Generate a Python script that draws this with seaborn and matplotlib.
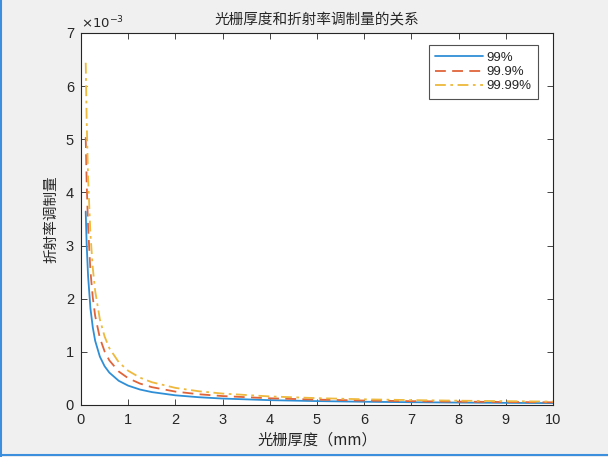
import pandas as pd
import seaborn as sns
import matplotlib.pyplot as plt
from matplotlib.lines import Line2D

# grating thickness (mm)
thickness = [0.1, 0.12, 0.15, 0.2, 0.25, 0.3, 0.4, 0.5, 0.6, 0.8, 1.0, 1.25, 1.5,
             2.0, 2.5, 3.0, 4.0, 5.0, 6.0, 7.0, 8.0, 9.0, 10.0]

# refractive index modulation, in units of 1e-3
dn_99 = [3.64, 3.03, 2.43, 1.82, 1.46, 1.21, 0.91, 0.73, 0.61, 0.455, 0.364, 0.291, 0.243,
         0.182, 0.146, 0.121, 0.091, 0.073, 0.061, 0.052, 0.0455, 0.040, 0.036]
dn_999 = [5.04, 4.20, 3.36, 2.52, 2.02, 1.68, 1.26, 1.01, 0.84, 0.63, 0.504, 0.403, 0.336,
          0.252, 0.202, 0.168, 0.126, 0.101, 0.084, 0.072, 0.063, 0.056, 0.050]
dn_9999 = [6.44, 5.37, 4.29, 3.22, 2.58, 2.15, 1.61, 1.29, 1.07, 0.805, 0.644, 0.515, 0.429,
           0.322, 0.258, 0.215, 0.161, 0.129, 0.107, 0.092, 0.081, 0.072, 0.064]

labels = ['99%', '99.9%', '99.99%']

df = pd.concat([
    pd.DataFrame({'d': thickness, 'dn': dn_99, 'eff': labels[0]}),
    pd.DataFrame({'d': thickness, 'dn': dn_999, 'eff': labels[1]}),
    pd.DataFrame({'d': thickness, 'dn': dn_9999, 'eff': labels[2]}),
])

sns.set_style('ticks')
plt.rcParams['font.family'] = ['Liberation Sans', 'Noto Sans CJK SC', 'DejaVu Sans']
plt.rcParams['axes.unicode_minus'] = False

colors = {'99%': '#2f8fd6', '99.9%': '#e0643a', '99.99%': '#eeb93c'}
dashes = {'99%': '', '99.9%': (6, 3.5), '99.99%': (6, 2.5, 1.5, 2.5)}

fig = plt.figure(figsize=(6.08, 4.57), dpi=100, facecolor='#f0f0f0')
ax = fig.add_axes([0.1332, 0.1138, 0.9095 - 0.1332, 0.9278 - 0.1138])
ax.set_facecolor('white')

sns.lineplot(data=df, x='d', y='dn', hue='eff', style='eff', palette=colors,
             dashes=dashes, linewidth=1.3, ax=ax, legend=True)

ax.set_xlim(0, 10)
ax.set_ylim(0, 7)
ax.set_xticks(range(0, 11))
ax.set_yticks(range(0, 8))

grey = '#262626'
for s in ax.spines.values():
    s.set_visible(True)
    s.set_color(grey)
    s.set_linewidth(0.8)
ax.tick_params(direction='in', top=True, right=True, length=4, width=0.6,
               colors=grey, labelsize=10.5, labelcolor=grey)
ax.tick_params(axis='x', pad=6)
ax.tick_params(axis='y', pad=5)

cjk = ['Noto Sans CJK SC', 'DejaVu Sans']
ax.set_title('光栅厚度和折射率调制量的关系', fontsize=10.5, color=grey, family=cjk, pad=6)
ax.set_xlabel('光栅厚度（mm）', fontsize=11, color=grey, family=cjk, labelpad=3)
ax.set_ylabel('折射率调制量', fontsize=10.5, color=grey, family=cjk, labelpad=5)
ax.text(0.0, 1.005, r'$\times10^{-3}$', transform=ax.transAxes, fontsize=9.5,
        color=grey, ha='left', va='bottom')

leg = ax.legend(loc='upper right', fontsize=9.5, frameon=True, fancybox=False,
                edgecolor=grey, handlelength=3.6, borderpad=0.5, labelspacing=0.15,
                handletextpad=0.3, bbox_to_anchor=(0.983, 0.985))
leg.get_frame().set_linewidth(0.8)
for t in leg.get_texts():
    t.set_color(grey)

# window frame
fig.add_artist(Line2D([0.002, 0.002], [0.0, 1.0], color='#3c8fdc', linewidth=1.5,
                      transform=fig.transFigure))
fig.add_artist(Line2D([0.0, 1.0], [0.004, 0.004], color='#3c8fdc', linewidth=1.5,
                      transform=fig.transFigure))

fig.savefig('out.png', dpi=100, facecolor=fig.get_facecolor())
